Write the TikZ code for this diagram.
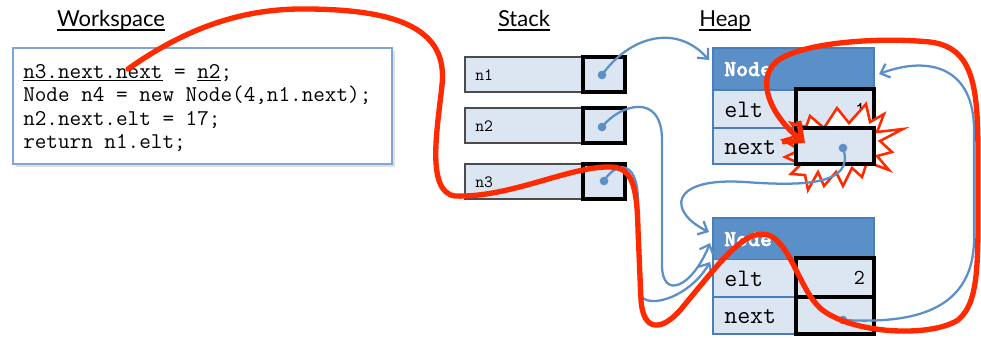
\documentclass[tikz,border=0pt]{standalone}
\usepackage{fontspec}
\newfontfamily\titlefont{Lato}
\newfontfamily\hdrfont[FakeBold=2.5]{lmmonolt10-bold.otf}
\usetikzlibrary{arrows.meta,shadows}
\definecolor{rowfill}{HTML}{DCE6F2}
\definecolor{hdrfill}{HTML}{5B8FC8}
\definecolor{hdrline}{HTML}{4A7EBB}
\definecolor{ptrblue}{HTML}{5B8FC7}
\definecolor{hotred}{HTML}{FF2A00}
\definecolor{codeline}{HTML}{7EA6D8}
\begin{document}
\begin{tikzpicture}[x=0.75pt,y=-0.75pt,
  title/.style={font=\titlefont\fontsize{16.5}{18}\selectfont, anchor=base, inner sep=0},
  ulinestyle/.style={line width=1.1pt},
  codetext/.style={font=\ttfamily\fontsize{16.9}{19}\selectfont, anchor=base west, inner sep=0},
  codebox/.style={draw=codeline, line width=0.8pt, fill=white, inner sep=0,
     minimum width=284.25pt, minimum height=87pt,
     drop shadow={shadow xshift=2pt, shadow yshift=-2pt, opacity=0.25}},
  slot/.style={draw=black!70, fill=rowfill, line width=0.9pt, minimum width=90pt,
     minimum height=26.25pt, inner sep=0},
  slotval/.style={draw=black, fill=rowfill, line width=2.3pt, minimum width=31.5pt,
     minimum height=26.25pt, inner sep=0},
  slottext/.style={font=\ttfamily\fontsize{12.9}{15}\selectfont, anchor=base west, inner sep=0},
  hdr/.style={draw=hdrline, fill=hdrfill, line width=0.8pt, minimum width=120.75pt,
     minimum height=31.5pt, inner sep=0},
  cell/.style={draw=hdrline, fill=rowfill, line width=0.8pt, minimum width=62.25pt,
     inner sep=0},
  valbox/.style={draw=black, fill=rowfill, line width=2.3pt, minimum width=58.5pt,
     inner sep=0},
  hdrtext/.style={font=\hdrfont\fontsize{17}{19}\selectfont, text=white,
     anchor=base west, inner sep=0},
  fieldtext/.style={font=\ttfamily\fontsize{18.9}{21}\selectfont, anchor=base west, inner sep=0},
  numtext/.style={font=\ttfamily\fontsize{16}{18}\selectfont, anchor=base east, inner sep=0},
  dotmark/.style={circle, fill=ptrblue, inner sep=0, minimum size=6.5pt},
  ptr/.style={draw=ptrblue, line width=1.7pt, line cap=round,
     -{Straight Barb[length=6pt,width=11pt,line width=1.7pt]}},
  redpath/.style={draw=hotred, line width=4pt, line cap=round, line join=round,
     -{Straight Barb[length=11pt,width=20pt,line width=4pt]}},
  burst/.style={draw=hotred, fill=white, line width=1.9pt, line join=miter}
]
\useasboundingbox (0,0) rectangle (981,337);

% titles
\node[title] (tw) at (111,26) {Workspace};
\draw[ulinestyle] ([yshift=-3pt]tw.base west) -- ([yshift=-3pt]tw.base east);
\node[title] (ts) at (524,26) {Stack};
\draw[ulinestyle] ([yshift=-3pt]ts.base west) -- ([yshift=-3pt]ts.base east);
\node[title] (th) at (725,26) {Heap};
\draw[ulinestyle] ([yshift=-3pt]th.base west) -- ([yshift=-3pt]th.base east);

% workspace code
\node[codebox] (code) at (202.5,106) {};
\node[codetext] (c1) at (23,78) {\underline{n3.next.next} = \underline{n2};};
\node[codetext] (c2) at (23,101.5) {Node n4 = new Node(4,n1.next);};
\node[codetext] (c3) at (23,125) {n2.next.elt = 17;};
\node[codetext] (c4) at (23,148) {return n1.elt;};

% stack
\node[slot] (s1) at (525,74.5) {};
\node[slotval] (v1) at (604,74.5) {};
\node[slottext] (l1) at (475,80) {n1};
\node[slot] (s2) at (525,125.5) {};
\node[slotval] (v2) at (604,125.5) {};
\node[slottext] (l2) at (475,131) {n2};
\node[slot] (s3) at (525,181.5) {};
\node[slotval] (v3) at (604,181.5) {};
\node[slottext] (l3) at (475,187) {n3};

% heap node 1
\node[hdr] (h1) at (793.5,69) {};
\node[cell, minimum height=28.5pt] (h1ek) at (754.5,109) {};
\node[cell, minimum height=27pt] (h1nk) at (754.5,146) {};
\node[valbox, minimum height=29.25pt] (h1ev) at (835,108.5) {};
\node[hdrtext] (h1t) at (724,76) {Node};
\node[fieldtext] (h1el) at (724,117) {elt};
\node[fieldtext] (h1nl) at (724,154) {next};
\node[numtext] (h1num) at (866,116) {1};
\draw[burst] (810,116) -- (824,128) -- (837,108) -- (849,123) -- (866,104) -- (870,122)
  -- (884,114) -- (877,132) -- (903,129) -- (880,141) -- (892,152) -- (877,156)
  -- (889,170) -- (867,162) -- (862,177) -- (852,168) -- (843,186) -- (836,172)
  -- (824,186) -- (818,172) -- (808,190) -- (805,175) -- (791,174) -- (801,164)
  -- (785,157) -- (800,150) -- (783,140) -- (800,135) -- (791,123) -- (806,127) -- cycle;
\node[valbox, minimum height=27pt] (h1nv) at (835,146) {};

% heap node 2
\node[hdr] (h2) at (793.5,239) {};
\node[cell, minimum height=28.5pt] (h2ek) at (754.5,278.5) {};
\node[cell, minimum height=27.75pt] (h2nk) at (754.5,315.5) {};
\node[valbox, minimum height=29.25pt] (h2ev) at (835,277.5) {};
\node[valbox, minimum height=27.75pt] (h2nv) at (835,315.5) {};
\node[hdrtext] (h2t) at (724,246) {Node};
\node[fieldtext] (h2el) at (724,286) {elt};
\node[fieldtext] (h2nl) at (724,323) {next};
\node[numtext] (h2num) at (865,284) {2};

% pointer dots
\node[dotmark] (d1) at (602,75) {};
\node[dotmark] (d2) at (602,127) {};
\node[dotmark] (d3) at (604,181) {};
\node[dotmark] (d4) at (843,148) {};
\node[dotmark] (d5) at (843,320) {};

% arrow targets
\coordinate (t1) at (709,60);
\coordinate (t2) at (710,243);
\coordinate (t3) at (710,262);
\coordinate (t4) at (709,232);
\coordinate (t5) at (879,74);

% blue pointers
\draw[ptr] (d1.center) .. controls (628,38) and (675,22) .. (t1);
\draw[ptr] (d2.center) .. controls (620,104) and (662,92) .. (662,140)
  -- (662,265) .. controls (662,300) and (692,288) .. (t2);
\draw[ptr] (d3.center) .. controls (614,164) and (637,156) .. (638,200)
  -- (639,290) .. controls (640,312) and (688,300) .. (t3);
\draw[ptr] (d4.center) .. controls (856,186) and (800,186) .. (745,182)
  .. controls (668,177) and (668,212) .. (t4);
\draw[ptr] (d5.center) .. controls (900,323) and (973,318) .. (974,240)
  -- (974,130) .. controls (974,68) and (930,55) .. (t5);

% red trace
\coordinate (rs) at (128,69);
\coordinate (re) at (805,143);
\draw[redpath] (rs) .. controls (200,18) and (260,8) .. (310,9)
  .. controls (400,10) and (448,30) .. (442,85)
  .. controls (438,125) and (425,192) .. (455,196)
  .. controls (510,198) and (570,166) .. (610,167)
  .. controls (632,167) and (637,185) .. (638,230)
  -- (641,300) .. controls (643,332) and (662,332) .. (682,308)
  .. controls (720,262) and (745,228) .. (768,235)
  .. controls (790,242) and (800,290) .. (820,308)
  .. controls (850,334) and (930,338) .. (958,320)
  .. controls (980,302) and (978,260) .. (978,180)
  .. controls (978,100) and (980,48) .. (930,42)
  .. controls (880,37) and (800,42) .. (776,62)
  .. controls (756,80) and (770,115) .. (re);
\end{tikzpicture}
\end{document}
